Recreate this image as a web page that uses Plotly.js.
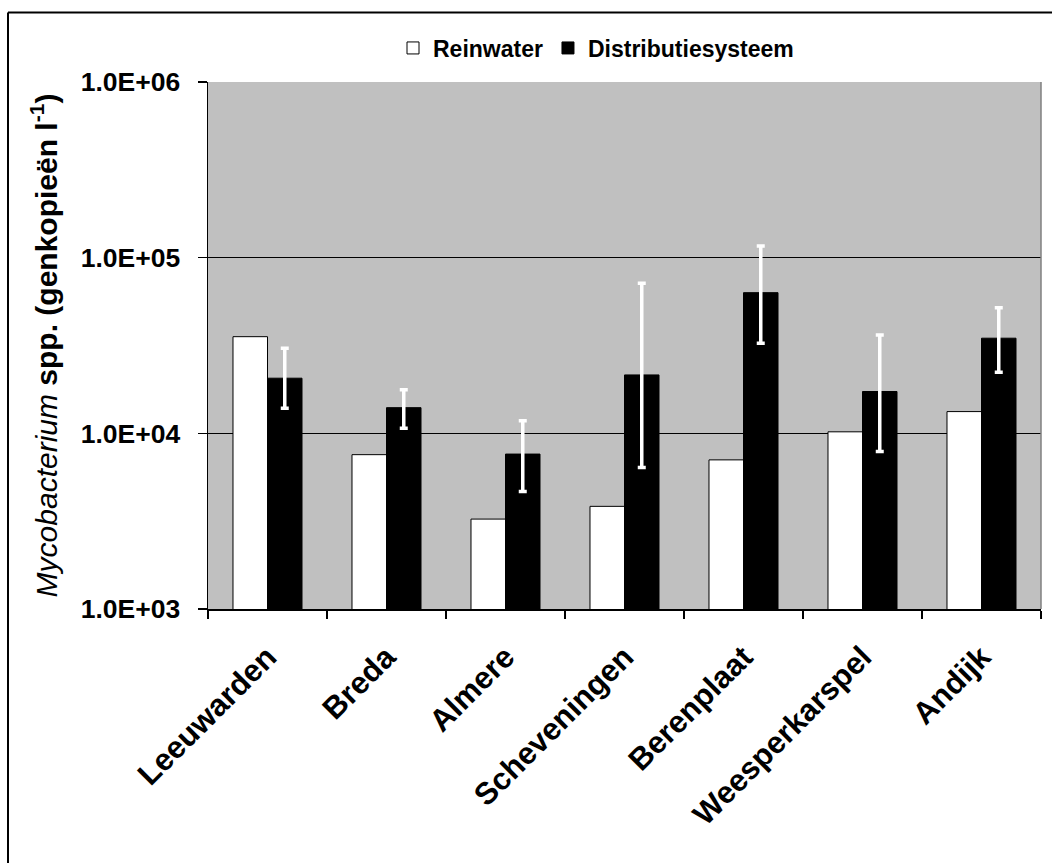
<!DOCTYPE html>
<html>
<head>
<meta charset="utf-8">
<script src="https://cdn.plot.ly/plotly-3.0.1.min.js"></script>
<style>
  html, body { margin: 0; padding: 0; background: #fff; }
  #chart { width: 1052px; height: 863px; }
</style>
</head>
<body>
<div id="chart"></div>
<script>
// ---- data ----
const categories = ["Leeuwarden", "Breda", "Almere", "Scheveningen", "Berenplaat", "Weesperkarspel", "Andijk"];
const reinwater = [35500, 7560, 3250, 3840, 7060, 10200, 13300];
const distributie = [20600, 14000, 7620, 21500, 63200, 17300, 34800];
const distributieHigh = [30500, 17700, 11800, 71500, 116700, 36300, 51800];
const distributieLow = [13900, 10700, 4670, 6400, 32600, 7890, 22300];
const yTickVals = [1e3, 1e4, 1e5, 1e6];
const yTickText = ["1.0E+03", "1.0E+04", "1.0E+05", "1.0E+06"];

const FONT = "'Liberation Sans', Arial, sans-serif";

const errPlus = distributieHigh.map((h, i) => h - distributie[i]);
const errMinus = distributieLow.map((l, i) => distributie[i] - l);

const traces = [
  {
    type: "bar",
    name: "Reinwater",
    x: categories,
    y: reinwater,
    marker: { color: "#ffffff", line: { color: "#000000", width: 1 } }
  },
  {
    type: "bar",
    name: "Distributiesysteem",
    x: categories,
    y: distributie,
    marker: { color: "#000000", line: { color: "#000000", width: 1 } },
    error_y: {
      type: "data",
      symmetric: false,
      array: errPlus,
      arrayminus: errMinus,
      color: "#ffffff",
      thickness: 3.5,
      width: 4
    }
  }
];

// plot-area pixel geometry helpers for the outer frame
const L = 208, R = 11, T = 82, B = 254;
const PW = 1052 - L - R, PH = 863 - T - B;
const px2x = px => (px - L) / PW;
const py2y = py => (863 - B - py) / PH;

const layout = {
  width: 1052,
  height: 863,
  margin: { l: L, r: R, t: T, b: B, pad: 0 },
  paper_bgcolor: "#ffffff",
  plot_bgcolor: "#c0c0c0",
  font: { family: FONT, color: "#000000" },
  barmode: "group",
  bargap: 0.42,
  bargroupgap: 0,
  showlegend: true,
  legend: {
    orientation: "h",
    x: px2x(596),
    xanchor: "center",
    y: py2y(48),
    yanchor: "middle",
    font: { family: FONT, size: 23, weight: "bold", color: "#000" },
    itemwidth: 30,
    bgcolor: "rgba(0,0,0,0)",
    traceorder: "normal"
  },
  xaxis: {
    type: "category",
    showgrid: false,
    showline: true,
    linecolor: "#000000",
    linewidth: 1.5,
    ticks: "outside",
    tickson: "boundaries",
    ticklen: 8,
    tickcolor: "#000000",
    tickwidth: 1.5,
    tickangle: -45,
    tickfont: { family: FONT, size: 31, weight: "bold", color: "#000" },
    ticklabelstandoff: 16,
    zeroline: false
  },
  yaxis: {
    type: "log",
    range: [3, 6],
    tickvals: yTickVals,
    ticktext: yTickText,
    showgrid: true,
    gridcolor: "#000000",
    gridwidth: 1,
    showline: true,
    linecolor: "#000000",
    linewidth: 1.5,
    ticks: "outside",
    ticklen: 9,
    tickcolor: "#000000",
    tickwidth: 1.5,
    tickfont: { family: FONT, size: 26.5, weight: "bold", color: "#000" },
    ticklabelstandoff: 12,
    zeroline: false,
    title: {
      text: "<i>Mycobacterium</i> <b>spp. (genkopieën l<sup>-1</sup>)</b>",
      font: { family: FONT, size: 30, color: "#000" },
      standoff: 14
    }
  },
  shapes: [
    // right plot-area border (grey)
    { type: "line", xref: "paper", yref: "paper", x0: 1, x1: 1, y0: 0, y1: 1,
      line: { color: "#808080", width: 1.5 } },
    // outer chart frame (left & top edges visible)
    { type: "line", xref: "paper", yref: "paper", x0: px2x(8), x1: px2x(8), y0: py2y(12.5), y1: py2y(900),
      line: { color: "#000000", width: 2 } },
    { type: "line", xref: "paper", yref: "paper", x0: px2x(8), x1: px2x(1100), y0: py2y(12.5), y1: py2y(12.5),
      line: { color: "#000000", width: 2 } }
  ]
};

Plotly.newPlot("chart", traces, layout, { displayModeBar: false, staticPlot: true });
</script>
</body>
</html>
